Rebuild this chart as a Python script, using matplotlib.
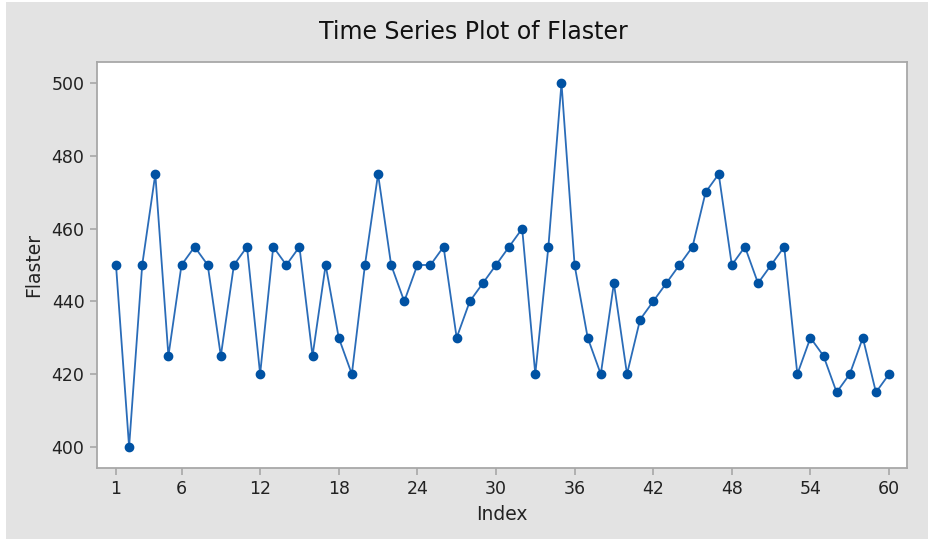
import matplotlib
matplotlib.use("Agg")
import matplotlib.pyplot as plt
from matplotlib.patches import Rectangle

# Flaster readings, one per index
index = list(range(1, 61))
flaster = [450, 400, 450, 475, 425, 450, 455, 450, 425, 450,
           455, 420, 455, 450, 455, 425, 450, 430, 420, 450,
           475, 450, 440, 450, 450, 455, 430, 440, 445, 450,
           455, 460, 420, 455, 500, 450, 430, 420, 445, 420,
           435, 440, 445, 450, 455, 470, 475, 450, 455, 445,
           450, 455, 420, 430, 425, 415, 420, 430, 415, 420]
x_ticks = [1, 6, 12, 18, 24, 30, 36, 42, 48, 54, 60]
y_ticks = [400, 420, 440, 460, 480, 500]

W, H = 933, 541
fig = plt.figure(figsize=(W / 100, H / 100), dpi=100)
fig.patch.set_facecolor("white")
fig.patches.append(Rectangle((6 / W, 2 / H), (928 - 6) / W, (539 - 2) / H,
                             transform=fig.transFigure, facecolor="#e3e3e3",
                             edgecolor="none", zorder=-5))

ax = fig.add_axes([97 / W, 1 - 468 / H, (907 - 97) / W, (468 - 62) / H])
ax.set_zorder(2)
ax.set_facecolor("white")
ax.plot(index, flaster, color="#2a6cb8", lw=1.3, marker="o", ms=6,
        mfc="#0052a3", mec="#0052a3", zorder=3)

ax.set_xlim(-0.45, 61.37)
ax.set_ylim(394.2, 505.8)
ax.set_xticks(x_ticks)
ax.set_yticks(y_ticks)

for s in ax.spines.values():
    s.set_color("#a8a8a8")
    s.set_linewidth(1.3)
ax.tick_params(axis="both", direction="out", length=5, width=1.2,
               color="#a8a8a8", labelsize=12.5, labelcolor="#222222", pad=4)

ax.set_xlabel("Index", fontsize=13.5, color="#222222", labelpad=5)
ax.set_ylabel("Flaster", fontsize=13.5, color="#222222", labelpad=6)
fig.text(473 / W, 1 - 32 / H, "Time Series Plot of Flaster",
         ha="center", va="center", fontsize=17, color="#111111", zorder=3)

fig.savefig("out.png", dpi=100, facecolor=fig.get_facecolor())
